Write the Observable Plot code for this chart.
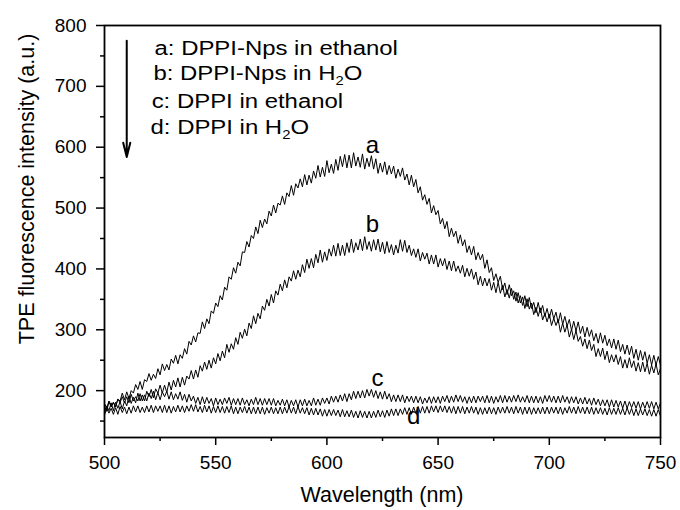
<!DOCTYPE html>
<html><head><meta charset="utf-8">
<script src="https://cdn.jsdelivr.net/npm/d3@7"></script>
<script src="https://cdn.jsdelivr.net/npm/@observablehq/plot@0.6"></script>
<style>body{margin:0;background:#fff} #chart{width:680px;height:510px}</style>
</head><body><div id="chart"></div>
<script>
const wavelength = [500,501,502,503,504,505,506,507,508,509,510,511,512,513,514,515,516,517,518,519,520,521,522,523,524,525,526,527,528,529,530,531,532,533,534,535,536,537,538,539,540,541,542,543,544,545,546,547,548,549,550,551,552,553,554,555,556,557,558,559,560,561,562,563,564,565,566,567,568,569,570,571,572,573,574,575,576,577,578,579,580,581,582,583,584,585,586,587,588,589,590,591,592,593,594,595,596,597,598,599,600,601,602,603,604,605,606,607,608,609,610,611,612,613,614,615,616,617,618,619,620,621,622,623,624,625,626,627,628,629,630,631,632,633,634,635,636,637,638,639,640,641,642,643,644,645,646,647,648,649,650,651,652,653,654,655,656,657,658,659,660,661,662,663,664,665,666,667,668,669,670,671,672,673,674,675,676,677,678,679,680,681,682,683,684,685,686,687,688,689,690,691,692,693,694,695,696,697,698,699,700,701,702,703,704,705,706,707,708,709,710,711,712,713,714,715,716,717,718,719,720,721,722,723,724,725,726,727,728,729,730,731,732,733,734,735,736,737,738,739,740,741,742,743,744,745,746,747,748,749,750];
const seriesA = [175,166,182,173,180,173,186,183,196,185,198,187,200,196,210,202,215,202,218,215,228,217,227,220,236,226,244,233,243,234,252,245,258,244,259,253,269,260,281,275,290,280,295,294,313,302,318,310,331,327,344,338,356,349,370,365,387,383,402,393,411,405,428,427,445,436,455,450,469,458,480,468,482,474,495,487,505,492,508,505,520,506,525,519,537,521,540,533,548,535,555,538,554,541,561,549,570,551,567,552,578,558,572,557,580,562,585,568,588,566,587,566,591,569,584,567,589,564,582,568,586,564,581,557,574,559,576,555,570,556,569,549,564,552,566,546,556,538,554,535,547,525,535,513,522,506,516,492,504,489,496,474,483,466,478,453,467,453,462,442,456,438,448,427,438,423,437,415,427,415,424,401,415,394,402,381,392,378,388,366,377,358,374,356,364,347,361,344,354,335,351,334,344,325,337,322,336,316,327,313,326,307,319,307,317,296,311,296,308,288,301,284,299,281,289,273,285,269,283,266,276,256,269,256,270,251,265,246,259,247,259,243,256,237,251,237,254,238,249,232,246,231,247,231,245,227,242,229,244,226,236];
const seriesB = [163,175,167,180,167,181,171,182,170,183,175,191,179,189,180,196,183,193,183,199,190,202,188,203,196,209,196,209,197,214,201,217,206,221,206,222,209,224,219,233,219,234,222,241,232,247,235,250,237,254,244,261,249,265,254,276,263,277,268,287,276,296,286,301,290,311,302,323,310,327,318,339,332,350,339,358,344,364,357,375,364,382,369,387,380,397,383,398,387,407,394,416,401,417,402,424,410,431,411,428,414,433,421,439,421,442,422,439,422,443,427,449,427,443,431,449,430,453,432,445,429,448,431,449,428,444,425,445,427,440,423,439,426,448,429,447,427,439,422,433,419,433,413,427,416,426,408,423,408,423,403,417,405,417,399,413,397,413,396,405,393,406,387,401,388,400,383,395,374,388,372,385,372,384,365,378,361,378,360,373,354,366,352,368,350,362,344,356,340,356,338,353,335,345,328,345,328,340,322,335,319,334,318,329,311,328,309,322,306,317,299,314,298,313,294,306,288,304,289,300,282,294,278,295,278,291,274,285,270,285,268,283,264,276,260,275,259,273,253,268,250,266,250,264,245,259,242,258,242,256,242];
const seriesC = [179,171,183,175,181,174,186,180,190,180,190,180,194,183,190,183,195,183,193,183,196,187,199,185,197,185,198,190,199,186,198,185,195,186,198,184,194,181,194,183,191,179,189,177,190,178,189,179,187,175,188,177,186,177,188,179,189,176,187,177,187,176,188,177,185,175,186,177,189,177,187,176,187,177,187,176,187,175,184,176,186,175,185,173,184,175,185,173,185,175,186,175,184,175,188,176,186,176,188,179,188,178,191,181,191,181,193,183,195,182,195,185,199,187,199,188,200,188,202,191,202,189,200,187,198,186,199,186,195,182,193,182,193,182,193,180,191,182,191,180,191,180,190,178,188,180,190,179,190,180,190,179,191,182,192,180,191,181,193,182,192,181,190,179,190,180,191,180,191,182,191,180,192,180,191,179,190,181,192,180,192,181,191,181,192,182,193,181,190,181,192,180,191,180,191,180,190,179,192,182,192,181,191,180,191,180,192,181,190,179,190,180,190,178,188,178,189,178,187,176,188,177,186,175,185,175,185,173,185,173,184,173,183,171,183,171,182,172,182,171,182,170,181,171,182,171,182,170,181,170,180];
const seriesD = [160,171,163,171,161,172,161,174,164,173,162,173,163,175,165,175,164,173,164,175,165,176,164,175,166,175,164,176,164,175,163,174,165,176,165,175,164,175,166,177,166,177,165,174,164,176,165,175,163,174,164,175,164,174,163,174,164,175,162,173,162,173,164,174,163,173,162,173,162,173,162,173,161,172,163,173,162,172,162,173,162,173,163,174,163,173,162,174,163,172,162,172,160,171,160,171,160,170,158,169,158,169,159,169,159,168,157,169,157,167,157,168,156,166,155,167,156,166,155,166,155,166,156,168,157,167,156,168,158,170,159,170,159,170,161,172,161,172,161,173,163,174,163,174,163,174,163,175,165,175,164,175,165,175,164,174,163,174,162,174,163,174,162,173,163,174,163,173,161,172,161,172,162,173,162,172,161,173,163,173,163,174,163,173,162,174,163,173,161,173,162,173,161,172,162,172,162,173,162,173,162,173,163,173,162,173,161,172,163,174,163,173,162,174,163,173,162,173,162,173,161,172,162,172,161,171,160,172,161,171,161,172,161,171,160,172,161,171,159,170,159,170,160,170,159,169,158,169,158,169,158];
const seriesNames = ["a","b","c","d"];
const legendLabels = ["a: DPPI-Nps in ethanol","b: DPPI-Nps in H\u2082O","c: DPPI in ethanol","d: DPPI in H\u2082O"];
const legendX = [522.5,522,521.2,520.7];
const legendY = [762,721,676,632];
const curveLabelX = [620.5,620.5,622.8,639];
const curveLabelY = [603,474,221,158];
const arrowX = [510];
const arrowTop = [775];
const arrowBottom = [584];
const xTicks = [500,550,600,650,700,750];
const xMinorTicks = [525,575,625,675,725];
const yTicks = [200,300,400,500,600,700,800];
const yMinorTicks = [150,250,350,450,550,650,750];

const allSeries = [seriesA,seriesB,seriesC,seriesD];
const rows = [];
allSeries.forEach((s,k)=> s.forEach((v,i)=> rows.push({series: seriesNames[k], wl: wavelength[i], v})));
const legendRows = legendLabels.map((t,i)=>({label:t, x:legendX[i], y:legendY[i]}));
const curveLabels = seriesNames.map((t,i)=>({label:t, x:curveLabelX[i], y:curveLabelY[i]}));
const arrows = arrowX.map((x,i)=>({x, top:arrowTop[i], bottom:arrowBottom[i]}));

const svg = Plot.plot({
  width:680, height:510, marginLeft:104, marginRight:20, marginTop:25, marginBottom:73,
  style:{fontFamily:"'Liberation Sans', Arial, sans-serif", fontSize:"19px", color:"#000", background:"#fff"},
  x:{domain:[500,750], label:null},
  y:{domain:[123,800], label:null},
  marks:[
    Plot.axisX(xTicks,{tickSize:8, tickPadding:10, strokeWidth:1.5, fontSize:19, label:null}),
    Plot.axisX(xMinorTicks,{tickSize:4, strokeWidth:1.5, tickFormat:()=>"", label:null}),
    Plot.axisY(yTicks,{tickSize:8, tickPadding:10, strokeWidth:1.5, fontSize:19, label:null}),
    Plot.axisY(yMinorTicks,{tickSize:4, strokeWidth:1.5, tickFormat:()=>"", label:null}),
    Plot.frame({stroke:"#000", strokeWidth:1.8}),
    Plot.line(rows,{x:"wl", y:"v", z:"series", stroke:"#000", strokeWidth:1}),
    Plot.text(curveLabels,{x:"x", y:"y", text:"label", fontSize:24, fill:"#000"}),
    Plot.text(legendRows,{x:"x", y:"y", text:"label", textAnchor:"start", fontSize:21, fill:"#000"}),
    Plot.arrow(arrows,{x1:"x", x2:"x", y1:"top", y2:"bottom", stroke:"#000", strokeWidth:2, headLength:11, headAngle:28})
  ]
});

const s = d3.select(svg);
function stretch(sel,k){
  sel.each(function(){
    const t = this.getAttribute("transform")||"";
    const x = +this.getAttribute("x")||0;
    this.setAttribute("transform", `${t} translate(${x},0) scale(${k},1) translate(${-x},0)`);
  });
}
const legendTexts = s.selectAll("text").filter(function(){ return legendLabels.includes(this.textContent); });
legendTexts.each(function(){
  const txt = this.textContent;
  if (txt.includes("\u2082")) {
    const [pre, post] = txt.split("\u2082");
    const el = d3.select(this);
    el.text(null);
    el.append("tspan").text(pre);
    el.append("tspan").attr("dy", 5).attr("font-size", 13).text("2");
    el.append("tspan").attr("dy", -5).text(post);
  }
});
stretch(legendTexts, 1.14);

s.append("text").attr("transform","translate(27,189) rotate(-90)")
  .attr("text-anchor","middle").attr("dominant-baseline","central")
  .attr("font-size",21.5).attr("fill","#000").text("TPE fluorescence intensity (a.u.)");
s.append("text").attr("x",382).attr("y",495)
  .attr("text-anchor","middle").attr("dominant-baseline","central")
  .attr("font-size",21.5).attr("fill","#000").text("Wavelength (nm)");

document.getElementById("chart").appendChild(svg);
</script>
</body></html>
